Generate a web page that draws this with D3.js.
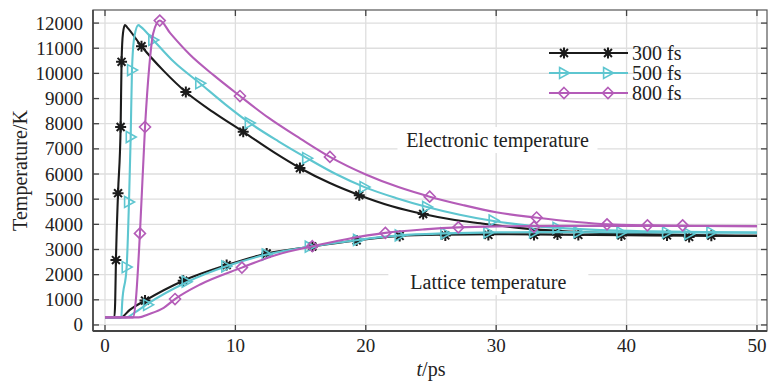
<!DOCTYPE html>
<html>
<head>
<meta charset="utf-8">
<script src="https://cdn.jsdelivr.net/npm/d3@7"></script>
<style>
  body { margin: 0; background: #fff; }
</style>
</head>
<body>
<svg id="chart" width="768" height="381"></svg>
<script>
// tick values
const timeTicks = [0, 10, 20, 30, 40, 50];
const tempTicks = [0, 1000, 2000, 3000, 4000, 5000, 6000, 7000, 8000, 9000, 10000, 11000, 12000];

// 300 fs pulse: [t (ps), T (K)]
const elec300 = [[0,300],[0.72,300],[0.78,900],[0.84,2580],[1.0,5240],[1.2,7870],[1.27,10460],[1.38,11600],[1.53,11920],[1.7,11830],[2.8,11080],[4.5,10100],[6.2,9260],[8.3,8460],[10.6,7680],[13,6850],[14.95,6240],[17.2,5650],[19.5,5160],[22,4720],[24.4,4410],[26.5,4200],[28.8,4040],[32.1,3840],[35,3730],[38,3660],[42,3600],[46,3560],[50,3540]];
const latt300 = [[0,300],[1.2,300],[1.9,600],[3.07,970],[6.0,1760],[9.33,2380],[12.4,2840],[15.9,3120],[19.3,3360],[22.6,3540],[26,3590],[30,3610],[35,3590],[40,3570],[45,3550],[50,3540]];
const mark300e = [[0.84,2580],[1.0,5240],[1.2,7870],[1.27,10460],[2.8,11080],[6.2,9260],[10.6,7680],[14.95,6240],[19.5,5160],[24.4,4410]];
const mark300l = [[3.07,970],[6.0,1760],[9.33,2380],[12.4,2840],[15.9,3120],[19.3,3360],[22.6,3540],[26.1,3560],[29.4,3580],[32.9,3580],[34.7,3600],[36.3,3580],[39.6,3560],[43.1,3560],[44.8,3500],[46.5,3550]];

// 500 fs pulse
const elec500 = [[0,300],[1.25,300],[1.32,900],[1.66,2300],[1.84,4890],[1.97,7470],[2.07,10130],[2.25,11450],[2.56,11920],[2.75,11850],[3.7,11330],[5.3,10450],[7.3,9600],[9.2,8780],[11.1,8030],[13.3,7300],[15.5,6630],[17.7,6000],[19.9,5480],[22.3,5050],[24.7,4690],[27.2,4380],[29.8,4130],[32.5,3950],[35,3850],[38,3770],[42,3720],[46,3690],[50,3670]];
const latt500 = [[0,300],[1.6,300],[2.3,500],[3.2,820],[6.26,1700],[9.3,2330],[12.4,2800],[15.8,3120],[19.4,3380],[22.6,3560],[26,3640],[30,3680],[35,3690],[40,3680],[50,3670]];
const mark500e = [[1.66,2300],[1.84,4890],[1.97,7470],[2.07,10130],[3.7,11330],[7.3,9610],[11.1,8030],[15.5,6630],[19.9,5480],[24.7,4690],[29.8,4150],[34.7,3860]];
const mark500l = [[3.3,800],[6.26,1720],[9.3,2330],[12.4,2800],[15.7,3110],[19.4,3380],[22.6,3560],[26.1,3640],[29.4,3680],[32.9,3690],[36.3,3690],[39.6,3680],[43.1,3680],[44.8,3620],[46.5,3680]];

// 800 fs pulse
const elec800 = [[0,300],[2.15,300],[2.35,900],[2.68,3640],[3.07,7870],[3.4,10300],[3.7,11600],[4.2,12100],[5,11600],[6.5,10750],[8.4,9900],[10.35,9100],[12.5,8250],[15,7400],[17.25,6680],[20,5980],[22.5,5480],[24.9,5100],[27.5,4760],[30,4480],[33,4270],[36,4100],[38.5,4000],[42,3960],[46,3940],[50,3930]];
const latt800 = [[0,300],[2.6,300],[3.3,420],[4.5,680],[5.37,1030],[7.3,1610],[10.5,2280],[13,2760],[15.9,3130],[18.5,3410],[21.5,3660],[24.5,3800],[27.1,3880],[30,3920],[35,3940],[40,3940],[50,3930]];
const mark800e = [[2.68,3640],[3.07,7870],[4.2,12100],[10.35,9100],[17.25,6680],[24.9,5100],[33.1,4270],[38.5,4000],[41.6,3960],[44.3,3960]];
const mark800l = [[5.37,1030],[10.5,2280],[15.9,3130],[21.5,3660],[27.1,3880],[32.9,3900]];

const seriesNames = ['300 fs', '500 fs', '800 fs'];
const seriesColors = ['#1b1b1b', '#5ec6d0', '#b45cb8'];
const seriesShapes = ['star', 'tri', 'diamond'];

const series = [
    { elec: elec300, latt: latt300, marks: mark300e.concat(mark300l) },
    { elec: elec500, latt: latt500, marks: mark500e.concat(mark500l) },
    { elec: elec800, latt: latt800, marks: mark800e.concat(mark800l) }
];

const svg = d3.select('#chart')
    .attr('font-family', '"Liberation Serif", "Times New Roman", "DejaVu Serif", serif');
const margin = { left: 93, right: 1, top: 10, bottom: 50 };
const W = 768, H = 381;

const x = d3.scaleLinear().domain([-0.92, 50.77]).range([margin.left, W - margin.right]);
const y = d3.scaleLinear().domain([-240, 12520]).range([H - margin.bottom, margin.top]);

// grid
const grid = svg.append('g').attr('stroke', '#dedede').attr('stroke-width', 1.3);
grid.selectAll('.gx').data(timeTicks).enter().append('line')
    .attr('x1', d => x(d)).attr('x2', d => x(d))
    .attr('y1', y.range()[1]).attr('y2', y.range()[0]);
grid.selectAll('.gy').data(tempTicks).enter().append('line')
    .attr('x1', x.range()[0]).attr('x2', x.range()[1])
    .attr('y1', d => y(d)).attr('y2', d => y(d));

// annotation positions (data coords of text centre)
const notes = [
    { text: 'Electronic temperature', t: 30.1, T: 7350 },
    { text: 'Lattice temperature', t: 29.4, T: 1700 }
];
notes.forEach(n => {
    svg.append('rect')
        .attr('x', x(n.t) - 100).attr('y', y(n.T) - 13)
        .attr('width', 200).attr('height', 26)
        .attr('fill', '#fff');
});

// curves
const line = d3.line()
    .x(d => x(d[0]))
    .y(d => y(d[1]))
    .curve(d3.curveMonotoneX);

function drawMarker(g, shape, color, px, py) {
    const s = 5.5;
    if (shape === 'star') {
        g.append('path')
            .attr('d', `M${px - s},${py}L${px + s},${py}M${px},${py - s}L${px},${py + s}` +
                `M${px - s * 0.72},${py - s * 0.72}L${px + s * 0.72},${py + s * 0.72}` +
                `M${px - s * 0.72},${py + s * 0.72}L${px + s * 0.72},${py - s * 0.72}`)
            .attr('stroke', color).attr('stroke-width', 2).attr('fill', 'none');
    } else if (shape === 'tri') {
        g.append('path')
            .attr('d', `M${px - s * 0.8},${py - s}L${px + s * 1.0},${py}L${px - s * 0.8},${py + s}Z`)
            .attr('stroke', color).attr('stroke-width', 1.6).attr('fill', 'none');
    } else {
        g.append('path')
            .attr('d', `M${px},${py - s}L${px + s},${py}L${px},${py + s}L${px - s},${py}Z`)
            .attr('stroke', color).attr('stroke-width', 1.6).attr('fill', 'none');
    }
}

series.forEach((s, i) => {
    const g = svg.append('g');
    [s.elec, s.latt].forEach(arr => {
        g.append('path')
            .datum(arr)
            .attr('d', line)
            .attr('fill', 'none')
            .attr('stroke', seriesColors[i])
            .attr('stroke-width', 2.1);
    });
    s.marks.forEach(d => drawMarker(g, seriesShapes[i], seriesColors[i], x(d[0]), y(d[1])));
});

// annotations
notes.forEach(n => {
    svg.append('text')
        .attr('x', x(n.t)).attr('y', y(n.T))
        .attr('text-anchor', 'middle').attr('dominant-baseline', 'central')
        .attr('font-size', 20).attr('fill', '#222')
        .text(n.text);
});

// legend
const legend = svg.append('g');
seriesNames.forEach((name, i) => {
    const ly = 53 + i * 20;
    legend.append('line')
        .attr('x1', 549).attr('x2', 628).attr('y1', ly).attr('y2', ly)
        .attr('stroke', seriesColors[i]).attr('stroke-width', 2);
    drawMarker(legend, seriesShapes[i], seriesColors[i], 564, ly);
    drawMarker(legend, seriesShapes[i], seriesColors[i], 608, ly);
    legend.append('text')
        .attr('x', 632).attr('y', ly)
        .attr('dominant-baseline', 'central')
        .attr('font-size', 20).attr('fill', '#222')
        .text(name);
});

// frame
const x0 = x.range()[0], x1 = x.range()[1], y0 = y.range()[0], y1 = y.range()[1];
svg.append('rect')
    .attr('x', x0).attr('y', y1).attr('width', x1 - x0).attr('height', y0 - y1)
    .attr('fill', 'none').attr('stroke', '#555').attr('stroke-width', 1.2);
svg.append('line').attr('x1', x0).attr('x2', x1).attr('y1', y0).attr('y2', y0)
    .attr('stroke', '#444').attr('stroke-width', 2);
svg.append('line').attr('x1', x0).attr('x2', x0).attr('y1', y1).attr('y2', y0)
    .attr('stroke', '#444').attr('stroke-width', 1.6);

// inward ticks on all four sides
const ticks = svg.append('g').attr('stroke', '#444').attr('stroke-width', 1.3);
timeTicks.forEach(t => {
    ticks.append('line').attr('x1', x(t)).attr('x2', x(t)).attr('y1', y0).attr('y2', y0 - 6);
    ticks.append('line').attr('x1', x(t)).attr('x2', x(t)).attr('y1', y1).attr('y2', y1 + 6);
});
tempTicks.forEach(v => {
    ticks.append('line').attr('x1', x0).attr('x2', x0 + 6).attr('y1', y(v)).attr('y2', y(v));
    ticks.append('line').attr('x1', x1).attr('x2', x1 - 6).attr('y1', y(v)).attr('y2', y(v));
});

// tick labels
svg.append('g').selectAll('text').data(timeTicks).enter().append('text')
    .attr('x', d => x(d)).attr('y', y0 + 14)
    .attr('text-anchor', 'middle').attr('dominant-baseline', 'central')
    .attr('font-size', 19).attr('fill', '#222')
    .text(d => d);
svg.append('g').selectAll('text').data(tempTicks).enter().append('text')
    .attr('x', x0 - 10).attr('y', d => y(d))
    .attr('text-anchor', 'end').attr('dominant-baseline', 'central')
    .attr('font-size', 19).attr('fill', '#222')
    .text(d => d);

// axis titles
const xt = svg.append('text')
    .attr('x', (x(0) + x(50)) / 2).attr('y', y0 + 38)
    .attr('text-anchor', 'middle').attr('dominant-baseline', 'central')
    .attr('font-size', 20).attr('fill', '#222');
xt.append('tspan').attr('font-style', 'italic').text('t');
xt.append('tspan').text('/ps');

svg.append('text')
    .attr('transform', `translate(20,${(y0 + y1) / 2}) rotate(-90)`)
    .attr('text-anchor', 'middle').attr('dominant-baseline', 'central')
    .attr('font-size', 20).attr('fill', '#222')
    .text('Temperature/K');
</script>
</body>
</html>
